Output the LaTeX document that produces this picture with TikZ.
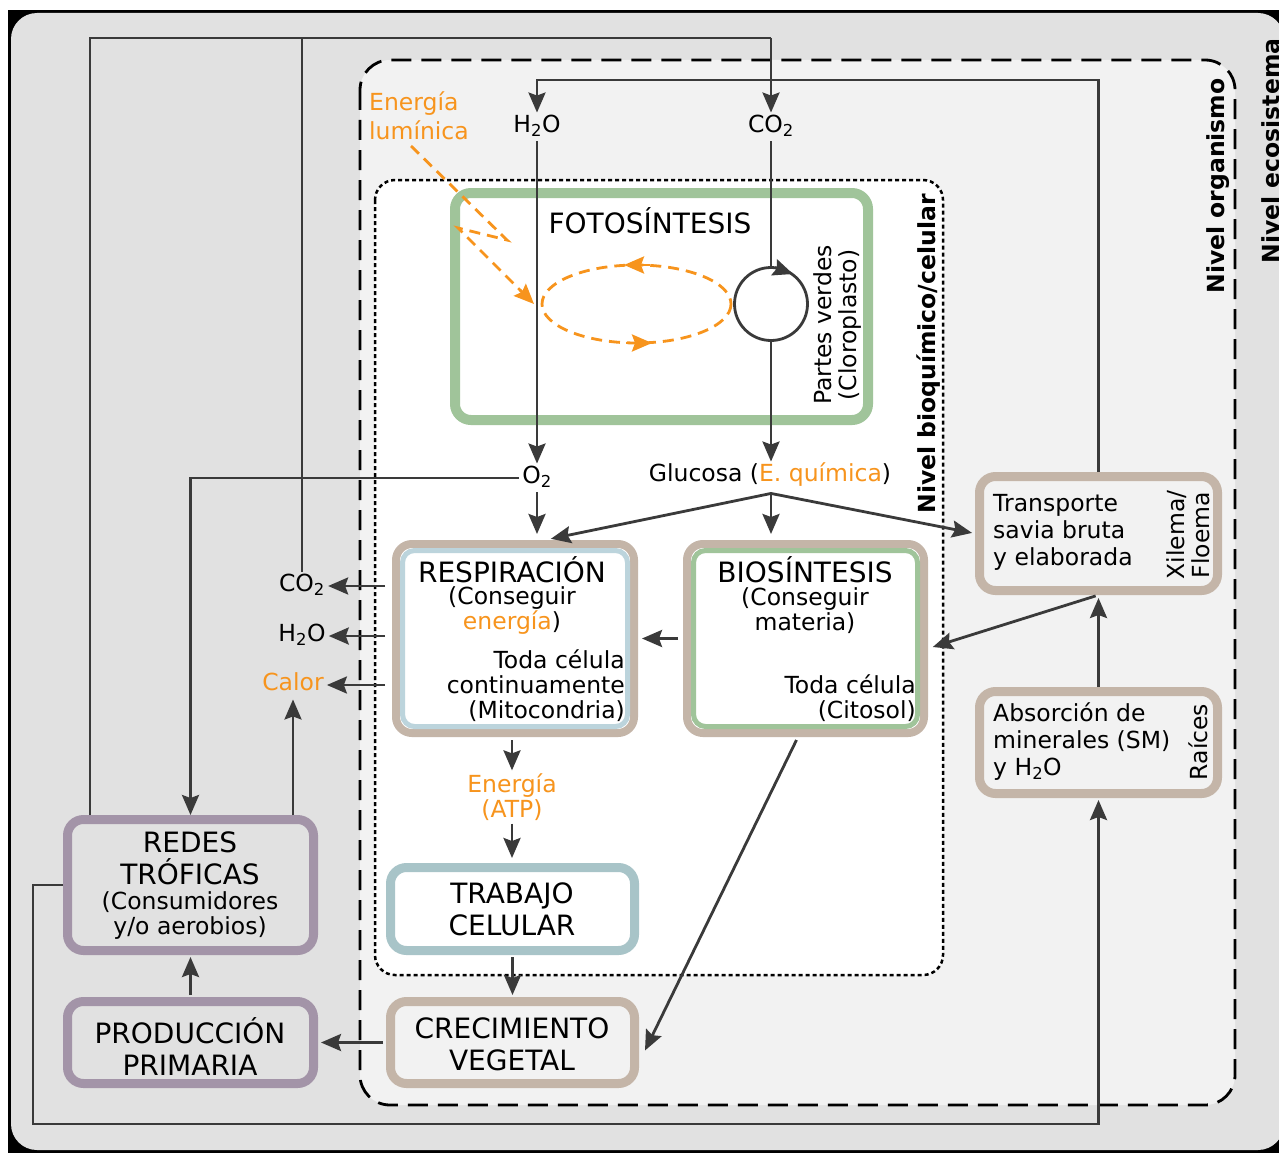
\documentclass[tikz,border=0pt]{standalone}
\usepackage{fontspec}
\setmainfont{DejaVu Sans}
\usetikzlibrary{arrows.meta,calc}
\definecolor{lc}{HTML}{3A3A3A}
\definecolor{eco}{HTML}{E1E1E1}
\definecolor{org}{HTML}{F2F2F2}
\definecolor{gr}{HTML}{A0C49A}
\definecolor{boxtan}{HTML}{C4B5A8}
\definecolor{lblue}{HTML}{BCD4DC}
\definecolor{tealg}{HTML}{A8C4C8}
\definecolor{purp}{HTML}{A394A8}
\definecolor{orng}{HTML}{F7941D}
\tikzset{
  ln/.style={draw=lc, line width=2.8pt},
  arr/.style={ln, -{Stealth[length=20pt,width=17pt,inset=3pt]}},
  orline/.style={draw=orng, line width=2.8pt, dash pattern=on 11pt off 7pt},
  orarr/.style={draw=orng, fill=orng, line width=2.8pt, -{Stealth[length=20pt,width=17pt,inset=3pt]}},
  box/.style={rectangle, rounded corners=16pt, inner sep=0pt},
  t/.style={font=\fontsize{23.5}{25}\selectfont, inner sep=3pt, text=black},
  lbl/.style={t, text height=17pt, text depth=5.5pt},
  tt/.style={font=\fontsize{28}{32}\selectfont, inner sep=0pt, text=black, align=center},
  nivel/.style={font=\bfseries\fontsize{23.5}{25}\selectfont, inner sep=0pt, rotate=90},
}
\begin{document}
\begin{tikzpicture}[x=1pt,y=-1pt]
\useasboundingbox (0,0) rectangle (1279,1153);
\clip (0,0) rectangle (1279,1153);
\fill[white] (0,0) rectangle (1279,1153);
\fill[black] (8,10) rectangle (1279,1153);
\fill[eco, rounded corners=26pt] (11,13) rectangle (1284,1150);
% organism level
\draw[black, line width=2.8pt, dash pattern=on 20pt off 10pt, fill=org, rounded corners=30pt] (360,60) rectangle (1235,1105);
% cellular level
\draw[black, line width=2.5pt, dash pattern=on 4pt off 3pt, fill=white, rounded corners=20pt] (375,180) rectangle (943,975);

% level labels
\node[nivel] (nivbio) at (929,354) {Nivel bioquímico/celular};
\node[nivel] (nivorg) at (1218,186) {Nivel organismo};
\node[nivel] (niveco) at (1271,151) {Nivel ecosistema};

% boxes
\node[box, draw=gr, line width=10pt, fill=white, minimum width=413pt, minimum height=227pt] (foto) at (661.5,306.5) {};
\node[box, draw=boxtan, line width=8pt, fill=white, minimum width=238pt, minimum height=189pt] (resp) at (515,638.5) {};
\draw[lblue, line width=5pt, rounded corners=12pt] ($(resp.north west)+(10.5,10.5)$) rectangle ($(resp.south east)+(-10.5,-10.5)$);
\node[box, draw=boxtan, line width=8pt, fill=white, minimum width=237pt, minimum height=189pt] (bio) at (805.5,638.5) {};
\draw[gr, line width=5pt, rounded corners=12pt] ($(bio.north west)+(10.5,10.5)$) rectangle ($(bio.south east)+(-10.5,-10.5)$);
\node[box, draw=tealg, line width=9pt, fill=white, minimum width=244pt, minimum height=83pt] (trab) at (512.5,909) {};
\node[box, draw=boxtan, line width=9pt, fill=org, minimum width=244pt, minimum height=82pt] (crec) at (512.5,1042.5) {};
\node[box, draw=purp, line width=9pt, fill=eco, minimum width=246pt, minimum height=82pt] (prod) at (190.5,1042.5) {};
\node[box, draw=purp, line width=9pt, fill=eco, minimum width=246pt, minimum height=131pt] (redes) at (190.5,885) {};
\node[box, draw=boxtan, line width=9pt, fill=org, minimum width=238pt, minimum height=114pt] (trans) at (1098.5,533.5) {};
\node[box, draw=boxtan, line width=9pt, fill=org, minimum width=238pt, minimum height=102pt] (abs) at (1098.5,742.5) {};

% box texts
\node[tt] (fototit) at (650,221) {FOTOSÍNTESIS};
\node[t, rotate=90, align=center] (pv) at (838,325) {Partes verdes\\(Cloroplasto)};
\node[tt] (resptit) at (512,570) {RESPIRACIÓN};
\node[t, align=center] (respsub) at (512,611) {(Conseguir\\\textcolor{orng}{energía})};
\node[t, align=right, anchor=east] (respdet) at (628,686) {Toda célula\\continuamente\\(Mitocondria)};
\node[tt] (biotit) at (805,570) {BIOSÍNTESIS};
\node[t, align=center] (biosub) at (805,611) {(Conseguir\\materia)};
\node[t, align=right, anchor=east] (biodet) at (919,698) {Toda célula\\(Citosol)};
\node[tt] (trabtit) at (512,909) {TRABAJO\\CELULAR};
\node[tt] (crectit) at (512,1044) {CRECIMIENTO\\VEGETAL};
\node[tt] (prodtit) at (190,1047) {PRODUCCIÓN\\PRIMARIA};
\node[tt] (redestit) at (190,858) {REDES\\TRÓFICAS};
\node[t, align=center] (redessub) at (190,916) {(Consumidores\\y/o aerobios)};
\node[t, align=left, anchor=west, font=\fontsize{23.5}{27}\selectfont] (transtxt) at (990,532) {Transporte\\savia bruta\\y elaborada};
\node[t, rotate=90, align=center] (xil) at (1188,535) {Xilema/\\Floema};
\node[t, align=left, anchor=west, font=\fontsize{23.5}{27}\selectfont] (abstxt) at (990,742) {Absorción de\\minerales (SM)\\y H\textsubscript{2}O};
\node[t, rotate=90] (raic) at (1198,742) {Raíces};

% labels
\node[lbl] (h2otop) at (537,127) {H\textsubscript{2}O};
\node[lbl] (co2top) at (771,127) {CO\textsubscript{2}};
\node[lbl] (o2) at (537,478) {O\textsubscript{2}};
\node[lbl] (gluc) at (770,476) {Glucosa (\textcolor{orng}{E. química})};
\node[lbl] (co2l) at (302,586) {CO\textsubscript{2}};
\node[lbl] (h2ol) at (302,636) {H\textsubscript{2}O};
\node[lbl, text=orng] (calor) at (293,685) {Calor};
\node[t, text=orng, align=center] (atp) at (512,797) {Energía\\(ATP)};
\node[t, text=orng, align=left, anchor=west, font=\fontsize{23.5}{29}\selectfont] (luz) at (366,116) {Energía\\lumínica};

% circle (Calvin)
\node[circle, draw=lc, line width=2.8pt, minimum size=73pt, inner sep=0pt] (circ) at (771,304) {};

% connectors
\coordinate (tl) at (90,38);
\coordinate (tm) at (302,38);
\coordinate (tr) at (771,38);
\draw[ln] (redes.north -| tl) -- (tl) -- (tr);
\draw[arr] (tr) -- (co2top);
\draw[ln] (co2l) -- (tm);
\coordinate (wr) at (1098.5,80);
\coordinate (wl) at (537,80);
\draw[arr] (trans.north) -- (wr) -- (wl) -- (h2otop);
\draw[arr] (h2otop) -- (o2);
\draw[ln] (co2top) -- (circ.north);
\draw[arr] (circ.south) -- (circ.south |- gluc.north);
\draw[arr] (o2.west) -| (redes.north);
\draw[arr, shorten >=6pt] (o2) -- (o2 |- resp.north);
\coordinate (gs) at ($(gluc.south)+(1,3)$);
\draw[arr, shorten >=6pt] (gs) -- ($(resp.north)+(30,0)$);
\draw[arr, shorten >=6pt] (gs) -- (gs |- bio.north);
\draw[arr, shorten >=3pt] (gs) -- (trans.west);
\draw[arr, shorten <=5pt, shorten >=4pt] (bio.west) -- (resp.east);
\draw[arr, shorten <=7pt] (resp.west |- co2l) -- (co2l);
\draw[arr, shorten <=7pt] (resp.west |- h2ol) -- (h2ol);
\draw[arr, shorten <=7pt] (resp.west |- calor) -- (calor);
\draw[arr] (redes.north -| calor) -- (calor);
\draw[arr, shorten <=3pt] (resp.south -| atp) -- (atp);
\draw[arr, shorten >=5pt] (atp) -- (atp |- trab.north);
\draw[arr, shorten <=2pt, shorten >=2pt] (trab) -- (crec);
\draw[arr] ($(bio.south)+(-9,3)$) -- ($(crec.east)+(6,8)$);
\draw[arr, shorten <=3pt, shorten >=3pt] (crec) -- (prod);
\draw[arr, shorten <=2pt, shorten >=2pt] (prod) -- (redes);
\coordinate (bl) at (33,1124);
\coordinate (br) at (1098.5,1124);
\draw[arr, shorten >=2pt] (redes.west) -- (redes.west -| bl) -- (bl) -- (br) -- (abs.south);
\draw[arr, shorten >=3pt] (abs) -- (trans);
\draw[arr, shorten <=3pt, shorten >=5pt] (trans.south) -- ($(bio.east)+(0,10)$);
% circle arrowhead
\draw[arr] (775,267.6) -- (793,274);

% light energy (orange)
\draw[orline] (411,146) -- (507,240) -- (458,228) -- (524,294);
\draw[orarr] (520,290) -- (534,304);
\draw[orline] (636.5,304) ellipse [x radius=94.5, y radius=39];
\draw[orarr] (650,265) -- (624,265);
\draw[orarr] (626,343) -- (652,343);
\end{tikzpicture}
\end{document}
